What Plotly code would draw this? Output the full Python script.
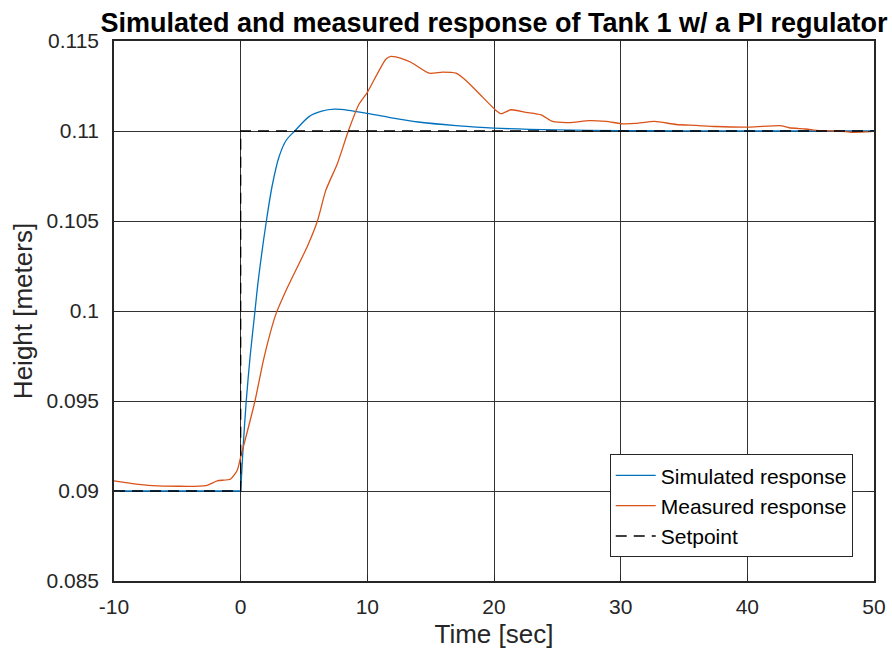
import plotly.graph_objects as go

# Simulated response (blue); None separates the flat pre-step part from the rise
sim_t = [-10, 0, None, 0, 0.2, 0.44, 0.75, 1.13, 1.39, 2.03, 2.5, 3.03, 3.61, 4.27, 5.4,
         6.4, 7.4, 8.5, 10, 11.7, 14, 17, 20, 25, 30, 35, 40, 50]
sim_y = [0.09, 0.09, None, 0.09, 0.0925, 0.095, 0.0975, 0.1, 0.1017, 0.105, 0.1070,
         0.10857, 0.1095, 0.1100, 0.1108, 0.1111, 0.11121, 0.11115, 0.11098, 0.11076, 0.1105,
         0.11030, 0.11016, 0.11006, 0.11002, 0.11001, 0.11, 0.11]

# Measured response (orange)
meas_t = [-10, -8.56, -6.98, -2.76, -1.85, -0.79, -0.27, 0, 0.4, 1.13, 1.84, 2.77, 3.69, 5.27,
          6.06, 6.72, 7.64, 8.5, 9.35, 10.0, 11.46, 11.86, 12.77, 13.44, 14.88, 15.94, 17.0,
          17.79, 19.1, 20.16, 20.55, 21.34, 22.53, 23.72, 24.63, 25.95, 27.53, 28.85, 30.17,
          31.2, 32.67, 34.4, 35.96, 37.5, 40.2, 42.7, 43.3, 44.6, 45.7, 47.3, 48.3, 50]
meas_y = [0.09056, 0.09041, 0.0903, 0.0903, 0.09056, 0.09067, 0.09115, 0.09189, 0.09296, 0.095,
          0.0974, 0.0998, 0.1013, 0.1036, 0.105, 0.1067, 0.1082, 0.11, 0.1115, 0.11215, 0.11399,
          0.11414, 0.11401, 0.11382, 0.11321, 0.11327, 0.11321, 0.1128, 0.11188, 0.11114,
          0.11096, 0.11118, 0.11104, 0.1109, 0.11053, 0.11047, 0.11058, 0.11053, 0.1104,
          0.11042, 0.11053, 0.11036, 0.11031, 0.11025, 0.11022, 0.11029, 0.11018, 0.11011,
          0.11002, 0.11, 0.10993, 0.10998]

# Setpoint (dashed black)
set_t = [-10, 0, 0, 50]
set_y = [0.09, 0.09, 0.11, 0.11]

x_ticks = [-10, 0, 10, 20, 30, 40, 50]
x_ticktext = ["-10", "0", "10", "20", "30", "40", "50"]
y_ticks = [0.085, 0.09, 0.095, 0.1, 0.105, 0.11, 0.115]
y_ticktext = ["0.085", "0.09", "0.095", "0.1", "0.105", "0.11", "0.115"]

FONT = "Liberation Sans, Arial, sans-serif"
AX = "#262626"

fig = go.Figure()
fig.add_trace(go.Scatter(x=sim_t, y=sim_y, mode="lines", name="Simulated response",
                         connectgaps=False,
                         line=dict(color="#0072BD", width=1.3, shape="spline", smoothing=0.8)))
fig.add_trace(go.Scatter(x=meas_t, y=meas_y, mode="lines", name="Measured response",
                         line=dict(color="#D95319", width=1.3, shape="spline", smoothing=0.6)))
fig.add_trace(go.Scatter(x=set_t, y=set_y, mode="lines", name="Setpoint",
                         line=dict(color="black", width=1.3, dash="11px,7px")))

fig.update_layout(
    width=892, height=659,
    margin=dict(l=114, r=18, t=41, b=78, autoexpand=False),
    paper_bgcolor="white", plot_bgcolor="white",
    font=dict(family=FONT, color=AX, size=21),
    title=dict(text="<b>Simulated and measured response of Tank 1 w/ a PI regulator</b>",
               x=0.5, xref="paper", xanchor="center", y=1, yref="paper", yanchor="bottom",
               pad=dict(b=9), font=dict(size=27, color="black", family=FONT)),
    showlegend=True,
    legend=dict(x=0.972, y=0.044, xanchor="right", yanchor="bottom",
                bgcolor="white", bordercolor=AX, borderwidth=1,
                font=dict(size=21, color="black", family=FONT),
                tracegroupgap=0, itemwidth=40),
)
fig.update_xaxes(range=[-10, 50], tickvals=x_ticks, ticktext=x_ticktext, ticks="inside",
                 ticklen=6, tickcolor=AX, showline=True, linecolor=AX, linewidth=1.5,
                 mirror="ticks", showgrid=True, gridcolor="#333333", gridwidth=1,
                 zeroline=False, ticklabelstandoff=6, automargin=False,
                 title=dict(text="Time [sec]", font=dict(size=26, color=AX), standoff=8))
fig.update_yaxes(range=[0.085, 0.115], tickvals=y_ticks, ticktext=y_ticktext, ticks="inside",
                 ticklen=6, tickcolor=AX, showline=True, linecolor=AX, linewidth=1.5,
                 mirror="ticks", showgrid=True, gridcolor="#333333", gridwidth=1,
                 zeroline=False, ticklabelstandoff=9, automargin=False,
                 title=dict(text="Height [meters]", font=dict(size=26, color=AX), standoff=6))

fig.write_html("out.html")
